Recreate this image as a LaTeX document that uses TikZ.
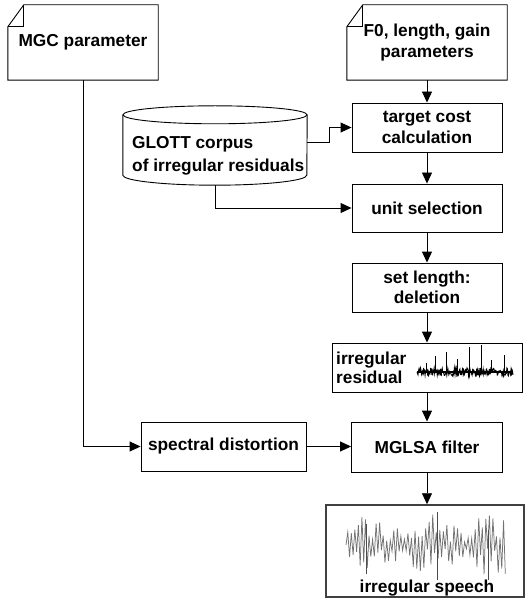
\documentclass[tikz,border=0pt]{standalone}
\usepackage{fontspec}
\setmainfont{Liberation Sans}
\usetikzlibrary{arrows.meta,calc}
\begin{document}
\begin{tikzpicture}[x=1pt,y=-1pt,
  lbl/.style={font=\fontsize{17.3}{20.5}\selectfont\bfseries, align=center, inner sep=0pt},
  box/.style={lbl, draw, line width=0.9pt, minimum width=150pt, minimum height=49pt},
  edge/.style={line width=0.9pt},
  arr/.style={line width=0.9pt, -{Triangle[length=11pt,width=10pt]}},
  ]
\useasboundingbox (0,0) rectangle (527,609);

% note-shaped inputs
\node[lbl, minimum width=150pt, minimum height=75pt] (mgc) at (83,42.5) {MGC parameter};
\draw[edge] ($(mgc.north west)+(16pt,0)$) -- (mgc.north east) -- (mgc.south east) -- (mgc.south west) -- ($(mgc.north west)+(0,-22pt)$) -- cycle;
\draw[edge] ($(mgc.north west)+(16pt,0)$) -- ($(mgc.north west)+(16pt,-22pt)$) -- ($(mgc.north west)+(0,-22pt)$);

\node[lbl, minimum width=160pt, minimum height=75pt] (f0) at (427,42.5) {F0, length, gain\\parameters};
\draw[edge] ($(f0.north west)+(16pt,0)$) -- (f0.north east) -- (f0.south east) -- (f0.south west) -- ($(f0.north west)+(0,-22pt)$) -- cycle;
\draw[edge] ($(f0.north west)+(16pt,0)$) -- ($(f0.north west)+(16pt,-22pt)$) -- ($(f0.north west)+(0,-22pt)$);

% cylinder (corpus)
\node[lbl, minimum width=184pt, minimum height=79pt] (glott) at (215,145.5) {};
\draw[edge] ($(glott.north)+(0,-9pt)$) ellipse [x radius=92pt, y radius=9pt];
\draw[edge] ($(glott.north west)+(0,-9pt)$) -- ($(glott.south west)+(0,10pt)$)
  arc [start angle=180, end angle=360, x radius=92pt, y radius=10pt]
  -- ($(glott.north east)+(0,-9pt)$);
\node[lbl, align=left, anchor=west, font=\fontsize{17.3}{23}\selectfont\bfseries] (glotttxt) at (132,156) {GLOTT corpus\\of irregular residuals};

% main column
\node[box] (target) at (427,127.5) {target cost\\calculation};
\node[box, minimum height=48pt] (unit) at (427,208) {unit selection};
\node[box] (setlen) at (427,287.5) {set length:\\deletion};

\node[draw, line width=0.9pt, minimum width=190pt, minimum height=49pt, inner sep=0pt] (resid) at (427,367.5) {};
\node[lbl, align=left, anchor=west, font=\fontsize{17.3}{19}\selectfont\bfseries] (residtxt) at (336,367.5) {irregular\\residual};
\pgfmathsetseed{3}
\draw[line width=2.2pt] (417,372) -- (513,372);
\draw[line width=0.9pt] (417,372) \foreach \i in {1,...,190} { -- ({417+\i*0.505},{372+rand*4.2}) };
\foreach \xx/\yy in {435/356, 446/352, 457/359, 469/347, 481/345, 504/355, 426/363, 491/360}
  \draw[line width=0.7pt] (\xx,373) -- (\xx,\yy);

\node[box, minimum width=151pt, minimum height=50pt] (mglsa) at (427,447) {MGLSA filter};
\node[box, minimum width=165pt] (spec) at (223.5,446.5) {spectral distortion};

\node[draw=black!75, line width=1.5pt, minimum width=198pt, minimum height=92pt, inner sep=0pt] (speech) at (425,551) {};
\pgfmathsetseed{11}
\draw[black!55, line width=0.75pt] (346,545) \foreach \i in {1,...,90} { -- ({346+\i*1.77},{545+cos(180*\i)*(3+rnd*(8+26*abs(sin(\i*5.5))))}) };
\draw[black!70, line width=0.75pt] (437,580) -- (437,512);
\draw[black!70, line width=0.75pt] (366,574) -- (366,524);
\draw[black!70, line width=0.75pt] (488,580) -- (488,530);
\node[lbl] (speechtxt) at (427,588) {irregular speech};

% connectors
\draw[arr] (f0.south) -- (target.north);
\draw[arr] ([yshift=3.5pt]glott.east) -- ++(22pt,0) |- (target.west);
\draw[arr] (glott.south) |- (unit.west);
\draw[arr] (target.south) -- (unit.north);
\draw[arr] (unit.south) -- (setlen.north);
\draw[arr] (setlen.south) -- (resid.north);
\draw[arr] (resid.south) -- (mglsa.north);
\draw[arr] (mgc.south) |- (spec.west);
\draw[arr] (spec.east) -- (spec.east -| mglsa.west);
\draw[arr] (mglsa.south) -- (mglsa.south |- speech.north);
\end{tikzpicture}
\end{document}
